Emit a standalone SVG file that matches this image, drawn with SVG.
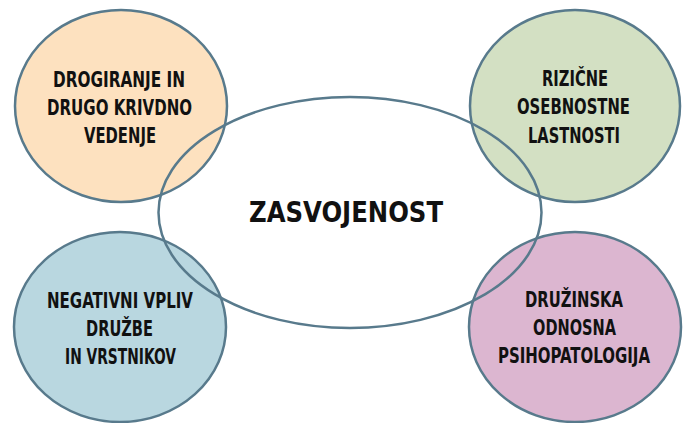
<svg xmlns="http://www.w3.org/2000/svg" width="688" height="423" viewBox="0 0 688 423">
<style>
.c{stroke:#587A8C;stroke-width:2.5}
.t{font-family:'DejaVu Sans Condensed','DejaVu Sans',sans-serif;font-stretch:condensed;font-weight:bold;font-size:22px;fill:#111;text-anchor:middle}
.m{font-size:29px}
</style>
<rect width="688" height="423" fill="#fff"/>
<g id="node-drogiranje">
<ellipse class="c" cx="121" cy="106" rx="106" ry="96" fill="#FDE1BF"/>
<text class="t" x="119" y="87" textLength="132" lengthAdjust="spacingAndGlyphs">DROGIRANJE IN</text>
<text class="t" x="119.5" y="115" textLength="145" lengthAdjust="spacingAndGlyphs">DRUGO KRIVDNO</text>
<text class="t" x="120" y="143" textLength="72" lengthAdjust="spacingAndGlyphs">VEDENJE</text>
</g>
<g id="node-rizicne">
<ellipse class="c" cx="575" cy="106" rx="105" ry="96" fill="#D3E0C3"/>
<text class="t" x="575" y="86" textLength="66" lengthAdjust="spacingAndGlyphs">RIZIČNE</text>
<text class="t" x="573.5" y="114" textLength="113" lengthAdjust="spacingAndGlyphs">OSEBNOSTNE</text>
<text class="t" x="574" y="143" textLength="92" lengthAdjust="spacingAndGlyphs">LASTNOSTI</text>
</g>
<g id="node-negativni">
<ellipse class="c" cx="120" cy="327" rx="106" ry="95" fill="#B9D7E0"/>
<text class="t" x="120" y="308" textLength="146" lengthAdjust="spacingAndGlyphs">NEGATIVNI VPLIV</text>
<text class="t" x="119.5" y="336" textLength="67" lengthAdjust="spacingAndGlyphs">DRUŽBE</text>
<text class="t" x="120.5" y="364" textLength="111" lengthAdjust="spacingAndGlyphs">IN VRSTNIKOV</text>
</g>
<g id="node-druzinska">
<ellipse class="c" cx="575" cy="327" rx="106" ry="95" fill="#DCB6D0"/>
<text class="t" x="574" y="307" textLength="98" lengthAdjust="spacingAndGlyphs">DRUŽINSKA</text>
<text class="t" x="574.5" y="335" textLength="83" lengthAdjust="spacingAndGlyphs">ODNOSNA</text>
<text class="t" x="574" y="363" textLength="152" lengthAdjust="spacingAndGlyphs">PSIHOPATOLOGIJA</text>
</g>
<g id="node-zasvojenost">
<ellipse class="c" cx="350" cy="212.5" rx="191.5" ry="115.5" fill="none"/>
<text class="t m" x="346" y="222" textLength="194" lengthAdjust="spacingAndGlyphs">ZASVOJENOST</text>
</g>
<g id="connectors"></g>
</svg>
